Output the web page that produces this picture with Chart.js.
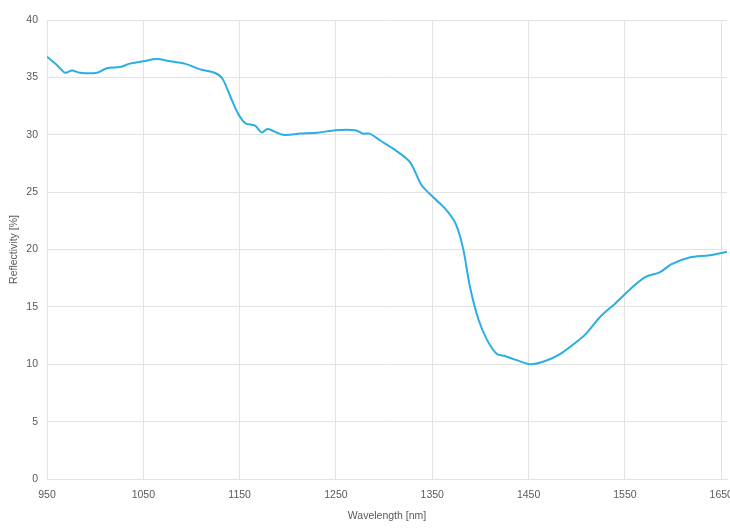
<!DOCTYPE html>
<html>
<head>
<meta charset="utf-8">
<script src="https://cdn.jsdelivr.net/npm/chart.js@4/dist/chart.umd.min.js"></script>
<style>
  html, body { margin: 0; padding: 0; background: #fff; }
  #wrap { width: 730px; height: 530px; }
</style>
</head>
<body>
<div id="wrap"><canvas id="chart"></canvas></div>
<script>
// values
const wavelength = [950, 960, 969, 976, 984, 1002, 1012, 1026, 1036, 1050, 1064, 1078, 1093, 1109, 1124, 1132,
  1140, 1148, 1156, 1166, 1173, 1179, 1195, 1213, 1233, 1249, 1270, 1278, 1285, 1296, 1311, 1327, 1339,
  1353, 1363, 1374, 1382, 1389, 1398, 1407, 1417, 1426, 1436, 1452, 1468, 1483, 1496, 1509, 1524, 1540,
  1555, 1571, 1586, 1598, 1617, 1638, 1656];
const reflectivity = [36.8, 36.1, 35.4, 35.6, 35.4, 35.4, 35.8, 35.9, 36.2, 36.4, 36.6, 36.4, 36.2, 35.7, 35.4, 34.9,
  33.4, 31.9, 31.0, 30.8, 30.2, 30.5, 30.0, 30.1, 30.2, 30.4, 30.4, 30.1, 30.1, 29.5, 28.7, 27.6, 25.6,
  24.4, 23.6, 22.3, 20.1, 16.8, 13.9, 12.1, 10.9, 10.7, 10.4, 10.0, 10.3, 10.9, 11.7, 12.6, 14.1, 15.3,
  16.5, 17.6, 18.0, 18.7, 19.3, 19.5, 19.8];
const xTicks = [950, 1050, 1150, 1250, 1350, 1450, 1550, 1650];
const yTicks = [0, 5, 10, 15, 20, 25, 30, 35, 40];

const points = wavelength.map((w, i) => ({ x: w, y: reflectivity[i] }));
const font = { family: "'Liberation Sans Narrow', 'Liberation Sans', sans-serif", size: 10.5 };
const textColor = '#595959';

new Chart(document.getElementById('chart'), {
  type: 'scatter',
  data: {
    datasets: [{
      data: points, showLine: true, borderColor: '#2aaee3', borderWidth: 2,
      pointRadius: 0, tension: 0.3, fill: false
    }]
  },
  options: {
    responsive: true, maintainAspectRatio: false, animation: false,
    layout: { padding: { top: 20, right: 3, left: 0, bottom: 0 } },
    plugins: { legend: { display: false }, tooltip: { enabled: false } },
    scales: {
      x: {
        type: 'linear', min: 950, max: 1656,
        afterBuildTicks: s => { s.ticks = xTicks.map(v => ({ value: v })); },
        afterFit: s => { s.height = 51; s.paddingLeft = 0; s.paddingRight = 0; },
        grid: { color: '#e3e3e3', drawTicks: false },
        border: { color: '#e3e3e3' },
        ticks: { color: textColor, font, padding: 10, maxRotation: 0, autoSkip: false, callback: v => String(v) },
        title: { display: true, text: 'Wavelength [nm]', color: textColor, font, padding: { top: 4, bottom: 8 } }
      },
      y: {
        min: 0, max: 40,
        afterBuildTicks: s => { s.ticks = yTicks.map(v => ({ value: v })); },
        afterFit: s => { s.width = 47; s.paddingTop = 0; s.paddingBottom = 0; },
        grid: { color: '#e3e3e3', drawTicks: false },
        border: { color: '#e3e3e3' },
        ticks: { color: textColor, font, padding: 9 },
        title: { display: true, text: 'Reflectivity [%]', color: textColor, font, padding: { top: 8, bottom: 0 } }
      }
    }
  }
});
</script>
</body>
</html>
